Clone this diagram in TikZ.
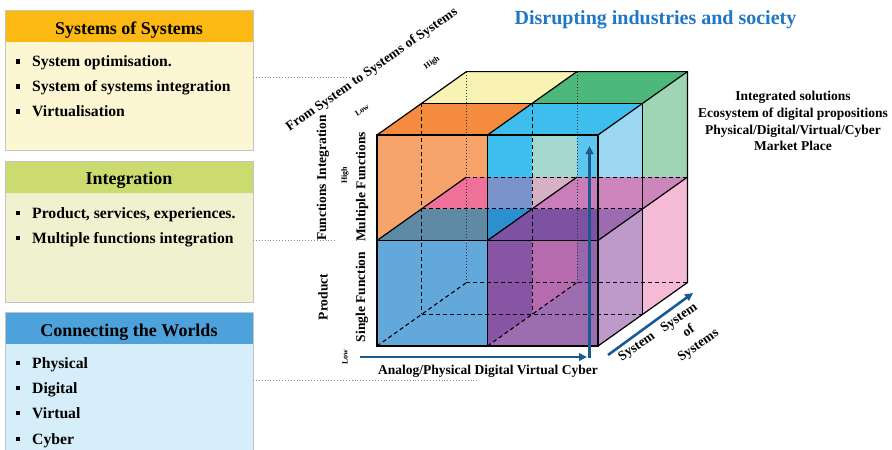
\documentclass[tikz,border=0pt]{standalone}
\usepackage{fontspec}
\setmainfont{Liberation Serif}
\usetikzlibrary{arrows.meta}
\definecolor{boxgray}{HTML}{C4C4C4}
\definecolor{dotgray}{HTML}{7F8C99}
\definecolor{hdA}{HTML}{FDB913}
\definecolor{bdA}{HTML}{FCF7D2}
\definecolor{hdB}{HTML}{CCDB70}
\definecolor{bdB}{HTML}{F0F2CF}
\definecolor{hdC}{HTML}{4EA2DB}
\definecolor{bdC}{HTML}{D5EEF9}
\definecolor{ttlblue}{HTML}{1F77C6}
\definecolor{axblue}{HTML}{1A5A92}
\definecolor{ctopor}{HTML}{F48B3F}
\definecolor{cyel}{HTML}{F8F3B3}
\definecolor{ccyantop}{HTML}{3DBEED}
\definecolor{cgreen}{HTML}{4CB879}
\definecolor{cltblue}{HTML}{9DD8F2}
\definecolor{cltgreen}{HTML}{9DD5B5}
\definecolor{clav}{HTML}{BE9ACB}
\definecolor{cpink}{HTML}{F4BAD6}
\definecolor{cor}{HTML}{F6A46B}
\definecolor{ccyan}{HTML}{3EBFEE}
\definecolor{cblue}{HTML}{62A8DB}
\definecolor{cpurp}{HTML}{8854A4}
\definecolor{cteal}{HTML}{A4D8CF}
\definecolor{ccyanb}{HTML}{5CC6EE}
\definecolor{cpinkpl}{HTML}{EF7099}
\definecolor{cbviol}{HTML}{7A93C9}
\definecolor{cpalepk}{HTML}{D6B0C3}
\definecolor{cmag}{HTML}{C97EB9}
\definecolor{cmauve}{HTML}{CC86BB}
\definecolor{cgblue}{HTML}{5F8AA5}
\definecolor{cblueb}{HTML}{2B8FD0}
\definecolor{cpurpb}{HTML}{7E52A2}
\definecolor{cpurpc}{HTML}{9C6BB0}
\definecolor{cmagb}{HTML}{B56BAD}
\definecolor{clilac}{HTML}{9D6EAF}
\definecolor{cpurpd}{HTML}{9866AC}
\begin{document}
\begin{tikzpicture}[x=1pt,y=-1pt,
  boxfr/.style={minimum width=248pt, inner sep=0pt, outer sep=0pt, anchor=north west},
  ttl/.style={font=\fontsize{18}{20}\selectfont\bfseries, anchor=base, inner sep=0pt},
  itm/.style={font=\fontsize{15.7}{18}\selectfont\bfseries, anchor=base west, inner sep=0pt},
  sq/.style={fill=black, minimum size=4.2pt, inner sep=0pt},
  conn/.style={draw=dotgray, line width=0.9pt, dotted},
  lab/.style={font=\fontsize{13.5}{16.8}\selectfont\bfseries, inner sep=0pt},
  smalllab/.style={font=\fontsize{8}{9}\selectfont\bfseries, inner sep=0pt},
  cedge/.style={line width=1.2pt, black},
  hid/.style={line width=1.1pt, black, dash pattern=on 4pt off 3pt},
  faint/.style={line width=0.7pt, black!80, dash pattern=on 1.5pt off 1.5pt},
  axis/.style={draw=axblue, line width=2.6pt, -{Triangle[length=8pt,width=7.5pt]}}
]
\useasboundingbox (0,0) rectangle (892,450);

% ---------------- left boxes ----------------
\node[boxfr, fill=bdA, minimum height=140pt] (sos) at (5,10) {};
\fill[hdA] (sos.north west) rectangle ([yshift=-32pt]sos.north east);
\draw[boxgray, line width=0.9pt] (sos.north west) rectangle (sos.south east);
\node[ttl] (sost) at (129,34.5) {Systems of Systems};
\node[sq] (sqa1) at (18,61.5) {};
\node[itm] (ta1) at (32,66.5) {System optimisation.};
\node[sq] (sqa2) at (18,86.5) {};
\node[itm] (ta2) at (32,91.5) {System of systems integration};
\node[sq] (sqa3) at (18,111.5) {};
\node[itm] (ta3) at (32,116.5) {Virtualisation};

\node[boxfr, fill=bdB, minimum height=141pt] (integ) at (5,161) {};
\fill[hdB] (integ.north west) rectangle ([yshift=-32pt]integ.north east);
\draw[boxgray, line width=0.9pt] (integ.north west) rectangle (integ.south east);
\node[ttl] (integt) at (129,184) {Integration};
\node[sq] (sqb1) at (18,213) {};
\node[itm] (tb1) at (32,218) {Product, services, experiences.};
\node[sq] (sqb2) at (18,238) {};
\node[itm] (tb2) at (32,243) {Multiple functions integration};

\node[boxfr, fill=bdC, minimum height=150pt] (cw) at (5,312) {};
\fill[hdC] (cw.north west) rectangle ([yshift=-32pt]cw.north east);
\draw[boxgray, line width=0.9pt] (cw.north west) rectangle (cw.south east);
\node[ttl] (cwt) at (129,336) {Connecting the Worlds};
\node[sq] (sqc1) at (18,363) {};
\node[itm] (tc1) at (32,368) {Physical};
\node[sq] (sqc2) at (18,388) {};
\node[itm] (tc2) at (32,393) {Digital};
\node[sq] (sqc3) at (18,413) {};
\node[itm] (tc3) at (32,418) {Virtual};
\node[sq] (sqc4) at (18,439) {};
\node[itm] (tc4) at (32,444) {Cyber};

% dotted connectors
\coordinate (ca) at (352,77);
\coordinate (cb) at (335,240);
\coordinate (cc) at (478,380);
\draw[conn] (sos.east |- ca) -- (ca);
\draw[conn] (integ.east |- cb) -- (cb);
\draw[conn] (cw.east |- cc) -- (cc);

% ---------------- cube ----------------
\foreach \i/\xx in {0/377,1/487.5,2/598}
  \foreach \j/\yy in {0/346,1/240.5,2/135}
    \foreach \k in {0,1,2}
      \coordinate (p\i\j\k) at ({\xx+44.7*\k},{\yy-31.7*\k});

% top faces
\fill[ctopor] (p020) -- (p120) -- (p121) -- (p021) -- cycle;
\fill[cyel] (p021) -- (p121) -- (p122) -- (p022) -- cycle;
\fill[ccyantop] (p120) -- (p220) -- (p221) -- (p121) -- cycle;
\fill[cgreen] (p121) -- (p221) -- (p222) -- (p122) -- cycle;
% right faces
\fill[cltblue] (p210) -- (p220) -- (p221) -- (p211) -- cycle;
\fill[cltgreen] (p211) -- (p221) -- (p222) -- (p212) -- cycle;
\fill[clav] (p200) -- (p210) -- (p211) -- (p201) -- cycle;
\fill[cpink] (p201) -- (p211) -- (p212) -- (p202) -- cycle;
% front faces
\fill[cor] (p010) -- (p110) -- (p120) -- (p020) -- cycle;
\fill[ccyan] (p110) -- (p210) -- (p220) -- (p120) -- cycle;
\fill[cblue] (p000) -- (p100) -- (p110) -- (p010) -- cycle;
\fill[cpurp] (p100) -- (p200) -- (p210) -- (p110) -- cycle;
% inner see-through regions
\fill[cteal] (p121 |- p120) -- (p122 |- p120) -- (p112) -- (p121 |- p112) -- cycle;
\fill[ccyanb] (p122 |- p120) -- (p220) -- (p210 |- p112) -- (p112) -- cycle;
\fill[cpinkpl] (p011) -- (p110 |- p011) -- (p110 |- p012) -- (p012) -- cycle;
\fill[cbviol] (p110 |- p011) -- (p111) -- (p111 |- p012) -- (p110 |- p012) -- cycle;
\fill[cpalepk] (p111) -- (p112) -- (p111 |- p112) -- cycle;
\fill[cmag] (p111) -- (p112) -- (p210 |- p112) -- (p210 |- p111) -- cycle;
\fill[cmauve] (p210 |- p112) -- (p212) -- (p211) -- (p210 |- p111) -- cycle;
\fill[cgblue] (p010) -- (p110) -- (p110 |- p011) -- (p011) -- cycle;
\fill[cblueb] (p110) -- (p111) -- (p110 |- p111) -- cycle;
\fill[cpurpb] (p110) -- (p210) -- (p210 |- p111) -- (p111) -- cycle;
\fill[cpurpc] (p210) -- (p211) -- (p210 |- p211) -- cycle;
\fill[cmagb] (p111 |- p110) -- (p112 |- p110) -- (p102) -- (p101) -- cycle;
\fill[clilac] (p100) -- (p102) -- (p200 |- p102) -- (p200) -- cycle;
\fill[cpurpd] (p112 |- p110) -- (p210) -- (p200 |- p102) -- (p102) -- cycle;

% hidden / inner lines
\draw[faint] (p022) -- (p002);
\draw[faint] (p122) -- (p102);
\draw[hid] (p021) -- (p001);
\draw[hid] (p121) -- (p101);
\draw[hid] (p001) -- (p201);
\draw[hid] (p002) -- (p202);
\draw[hid] (p000) -- (p002);
\draw[hid] (p100) -- (p102);
\draw[hid] (p011) -- (p211);
\draw[hid] (p012) -- (p212);
% visible edges
\draw[cedge] (p000) -- (p200) -- (p220) -- (p020) -- cycle;
\draw[cedge] (p100) -- (p120);
\draw[cedge] (p010) -- (p210);
\draw[cedge] (p020) -- (p022) -- (p222) -- (p202) -- (p200);
\draw[cedge] (p220) -- (p222);
\draw[cedge] (p120) -- (p122);
\draw[cedge] (p021) -- (p221) -- (p201);
\draw[cedge] (p210) -- (p212);
\draw[cedge] (p010) -- (p012);
\draw[cedge] (p110) -- (p112);

% axes
\coordinate (axs) at (360,357);
\coordinate (axe) at (587,357);
\coordinate (avs) at (589.5,358.3);
\coordinate (ave) at (589.5,146);
\coordinate (ads) at (608,355);
\coordinate (ade) at (693,293);
\draw[axis] (axs) -- (axe);
\draw[axis] (avs) -- (ave);
\draw[axis] (ads) -- (ade);

% ---------------- texts ----------------
\node[font=\fontsize{20}{24}\selectfont\bfseries, text=ttlblue, anchor=base, inner sep=0pt] (title) at (655.5,24.5) {Disrupting industries and society};
\node[lab, align=center] (rtext) at (793,121) {Integrated solutions\\Ecosystem of digital propositions\\Physical/Digital/Virtual/Cyber\\Market Place};

\node[lab, rotate=90] (fint) at (323,178) {Functions Integration};
\node[lab, rotate=90] (prod) at (323,297) {Product};
\node[lab, rotate=90] (multf) at (362,187) {Multiple Functions};
\node[lab, rotate=90] (singf) at (362,297) {Single Function};
\node[smalllab, rotate=90] (hiA) at (345,175) {High};
\node[smalllab, rotate=90] (loA) at (345,357) {Low};

\node[lab, rotate=35] (fromsys) at (372,70) {From System to Systems of Systems};
\node[smalllab, rotate=35] (hiB) at (432,63) {High};
\node[smalllab, rotate=35] (loB) at (362,110) {Low};

\node[lab] (analog) at (488,371) {Analog/Physical Digital Virtual Cyber};
\node[lab, rotate=35] (sysA) at (637,347) {System};
\node[lab, rotate=35, align=center] (sysB) at (689,332) {System\\of\\Systems};
\end{tikzpicture}
\end{document}
